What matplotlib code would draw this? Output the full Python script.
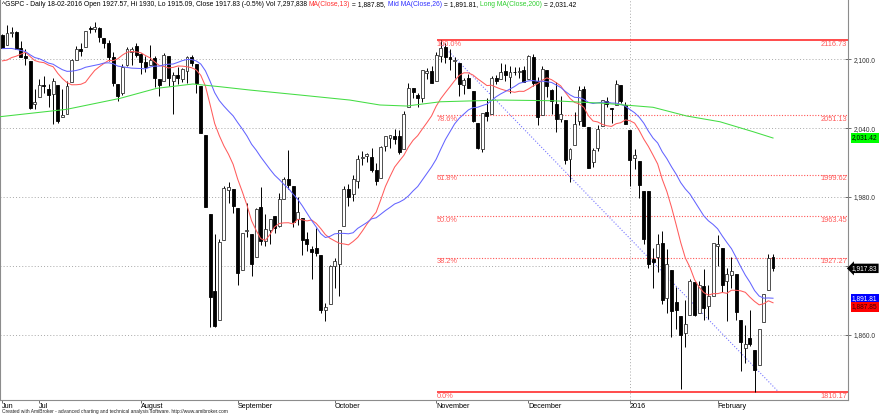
import matplotlib
matplotlib.use("Agg")
import matplotlib.pyplot as plt
import numpy as np
import pandas as pd

plt.rcParams['font.family'] = ['Liberation Sans', 'DejaVu Sans']

# trading days shown: 19 Jun 2015 .. 18 Feb 2016 (NYSE holidays skipped)
holidays = ['2015-07-03', '2015-09-07', '2015-11-26', '2015-12-25',
            '2016-01-01', '2016-01-18', '2016-02-15']
dates = pd.bdate_range('2015-06-19', '2016-02-18', freq='C', holidays=holidays)

# closes before the first visible bar, only used to start the moving averages
prior_closes = [2121.10, 2122.73, 2129.20, 2127.83, 2125.85, 2130.82, 2126.06,
                2104.20, 2123.48, 2120.79, 2107.39, 2111.73, 2109.60, 2114.07,
                2095.84, 2092.83, 2079.28, 2080.15, 2105.20, 2108.86, 2094.11,
                2084.43, 2096.29, 2100.44, 2121.24]

opens = [
    # Jun
    2121.06, 2112.50, 2123.16, 2123.65, 2109.96, 2102.62, 2098.63, 2061.19,
    # Jul
    2067.00, 2078.03, 2073.95, 2069.52, 2077.66, 2049.73, 2052.74, 2080.03, 2099.72, 2109.21, 2110.55,
    2126.80, 2126.85, 2127.55, 2118.21, 2114.16, 2102.24, 2078.19, 2070.75, 2094.70, 2106.78, 2111.60,
    # Aug
    2104.49, 2097.68, 2095.27, 2100.75, 2082.61, 2080.98, 2102.66, 2081.10, 2086.19, 2083.15, 2089.70,
    2101.99, 2095.69, 2076.61, 2034.08, 1965.15, 1898.08, 1872.75, 1942.77, 1986.06, 1986.73,
    # Sep
    1970.09, 1916.52, 1950.79, 1947.76, 1927.30, 1971.45, 1941.59, 1951.45, 1963.06, 1955.10, 1978.02,
    1995.33, 1989.66, 1960.84, 1961.39, 1943.24, 1934.81, 1935.93, 1929.18, 1881.90, 1887.14,
    # Oct
    1919.65, 1921.77, 1954.33, 1986.63, 1982.34, 1994.01, 2013.73, 2015.65, 2015.00, 2003.66, 1996.47,
    2024.37, 2031.73, 2033.13, 2033.47, 2021.88, 2058.19, 2075.08, 2068.75, 2066.48, 2088.35, 2090.00,
    # Nov
    2080.76, 2102.63, 2110.60, 2101.68, 2098.60, 2096.56, 2077.19, 2083.41, 2072.29, 2044.64,
    2022.08, 2053.67, 2051.99, 2083.70, 2082.82, 2089.41, 2084.42, 2089.30, 2088.82, 2090.95,
    # Dec
    2082.93, 2101.71, 2080.71, 2051.24, 2090.42, 2073.39, 2061.17, 2047.93, 2047.27, 2013.37, 2025.55,
    2046.50, 2073.76, 2040.81, 2010.27, 2023.15, 2042.20, 2063.52, 2057.77, 2060.54, 2077.34, 2060.59,
    # Jan
    2038.20, 2013.78, 2011.71, 1985.32, 1985.00, 1926.12, 1927.83, 1940.34, 1891.68, 1916.68,
    1888.66, 1876.18, 1861.46, 1877.40, 1906.28, 1878.79, 1902.52, 1885.22, 1894.00,
    # Feb
    1936.94, 1935.26, 1907.07, 1911.67, 1913.07, 1873.25, 1848.46, 1857.10, 1847.00, 1833.40,
    1871.44, 1898.80, 1927.57,
]
highs = [
    2121.64, 2129.87, 2128.03, 2125.10, 2116.04, 2108.92, 2098.63, 2074.28,
    2082.78, 2085.06, 2078.61, 2083.74, 2077.66, 2074.28, 2081.31, 2100.67, 2111.98, 2114.14, 2124.42,
    2128.91, 2132.82, 2128.49, 2118.51, 2116.87, 2106.01, 2078.19, 2095.60, 2110.60, 2110.48, 2114.24,
    2105.70, 2102.51, 2112.66, 2103.32, 2082.61, 2105.35, 2102.66, 2089.06, 2092.93, 2092.45, 2102.87,
    2103.47, 2096.17, 2076.61, 2034.08, 1965.15, 1948.04, 1943.09, 1989.60, 1993.48, 1986.73,
    1970.09, 1948.91, 1975.01, 1947.76, 1970.42, 1988.63, 1965.29, 1961.05, 1963.06, 1983.19, 1997.26,
    2020.86, 1989.66, 1979.64, 1961.39, 1949.52, 1937.17, 1952.89, 1929.18, 1887.64, 1920.53,
    1927.21, 1951.36, 1989.17, 1991.62, 1999.31, 2016.50, 2020.13, 2018.66, 2022.34, 2009.56, 2024.15,
    2033.54, 2034.45, 2039.12, 2037.97, 2055.20, 2079.74, 2075.14, 2070.37, 2090.35, 2092.52, 2094.32,
    2106.20, 2116.48, 2114.59, 2108.78, 2101.91, 2096.56, 2083.67, 2086.94, 2072.29, 2044.64,
    2053.22, 2066.69, 2085.31, 2086.74, 2097.06, 2095.61, 2094.12, 2093.00, 2093.29, 2093.81,
    2103.37, 2104.27, 2085.00, 2093.84, 2090.42, 2073.85, 2080.33, 2067.65, 2047.27, 2022.92, 2053.87,
    2076.72, 2076.37, 2040.81, 2022.90, 2042.74, 2064.73, 2067.36, 2057.77, 2081.56, 2077.34, 2062.54,
    2038.20, 2021.94, 2011.71, 1985.32, 1985.30, 1935.65, 1947.38, 1950.33, 1934.47, 1916.68,
    1901.44, 1876.18, 1889.85, 1908.85, 1906.28, 1906.73, 1916.99, 1902.96, 1940.24,
    1947.20, 1935.26, 1918.01, 1927.35, 1913.07, 1873.25, 1868.25, 1881.60, 1847.00, 1864.78,
    1895.77, 1930.68, 1930.00,
]
lows = [
    2109.45, 2112.50, 2119.89, 2108.58, 2101.78, 2095.38, 2056.64, 2056.32,
    2067.00, 2071.02, 2058.40, 2044.02, 2044.66, 2049.73, 2052.74, 2080.03, 2099.72, 2102.49, 2110.55,
    2122.76, 2123.66, 2115.40, 2110.00, 2098.63, 2077.09, 2063.52, 2069.09, 2094.08, 2094.97, 2102.07,
    2087.31, 2088.60, 2095.27, 2075.53, 2067.91, 2080.98, 2076.49, 2052.09, 2078.26, 2080.61, 2079.30,
    2094.14, 2070.53, 2035.73, 1970.89, 1867.01, 1867.08, 1872.75, 1942.77, 1975.19, 1965.98,
    1903.07, 1916.52, 1944.72, 1911.21, 1927.30, 1937.88, 1937.19, 1939.19, 1948.27, 1954.30, 1977.93,
    1986.73, 1953.45, 1955.80, 1929.22, 1932.57, 1908.92, 1928.83, 1879.21, 1871.91, 1887.14,
    1900.70, 1893.70, 1954.33, 1971.99, 1976.44, 1987.53, 2007.61, 2010.55, 2001.78, 1990.73, 1996.47,
    2020.46, 2022.31, 2026.61, 2017.22, 2021.88, 2058.19, 2066.53, 2058.84, 2063.11, 2082.63, 2079.34,
    2080.76, 2097.51, 2096.98, 2090.41, 2083.74, 2068.24, 2069.91, 2074.85, 2045.66, 2022.02,
    2019.39, 2045.90, 2051.99, 2078.76, 2082.82, 2081.39, 2070.29, 2086.30, 2084.13, 2080.41,
    2082.93, 2077.11, 2042.35, 2051.24, 2066.78, 2052.32, 2036.53, 2045.67, 2008.80, 1993.26, 2025.55,
    2042.43, 2041.66, 2005.33, 2005.93, 2020.49, 2042.20, 2058.73, 2044.20, 2060.54, 2061.97, 2043.62,
    1989.68, 2004.17, 1979.05, 1938.83, 1918.46, 1901.10, 1914.35, 1886.41, 1878.93, 1857.83,
    1864.60, 1812.29, 1848.98, 1877.40, 1875.97, 1878.79, 1872.70, 1873.65, 1894.00,
    1920.03, 1897.29, 1872.23, 1900.52, 1872.65, 1828.46, 1834.94, 1850.32, 1810.10, 1833.40,
    1871.44, 1898.80, 1915.09,
]
closes = [
    2109.99, 2122.85, 2124.20, 2108.58, 2102.31, 2101.49, 2057.64, 2063.11,
    2077.42, 2076.78, 2068.76, 2081.34, 2046.68, 2051.31, 2076.62, 2099.60, 2108.95, 2107.40, 2124.29,
    2126.64, 2128.28, 2119.21, 2114.15, 2102.15, 2079.65, 2067.64, 2093.25, 2108.57, 2108.63, 2103.84,
    2098.04, 2093.32, 2099.84, 2083.56, 2077.57, 2104.18, 2084.07, 2086.05, 2083.39, 2091.54, 2102.44,
    2096.92, 2079.61, 2035.73, 1970.89, 1893.21, 1867.61, 1940.51, 1987.66, 1988.87, 1972.18,
    1913.85, 1948.86, 1951.13, 1921.22, 1969.41, 1942.04, 1952.29, 1961.05, 1953.03, 1978.09, 1995.31,
    1990.20, 1958.03, 1966.97, 1942.74, 1938.76, 1932.24, 1931.34, 1881.77, 1884.09, 1920.03,
    1923.82, 1951.36, 1987.05, 1979.92, 1995.83, 2013.43, 2014.89, 2017.46, 2003.69, 1994.24, 2023.86,
    2033.11, 2033.66, 2030.77, 2018.94, 2052.51, 2075.15, 2071.18, 2065.89, 2090.35, 2089.41, 2079.36,
    2104.05, 2109.79, 2102.31, 2099.93, 2099.20, 2078.58, 2081.72, 2075.00, 2045.97, 2023.04,
    2053.19, 2050.44, 2083.58, 2081.24, 2089.17, 2086.59, 2089.14, 2088.87, 2090.11, 2080.41,
    2102.63, 2079.51, 2049.62, 2091.69, 2077.07, 2063.59, 2047.62, 2052.23, 2012.37, 2021.94, 2043.41,
    2073.07, 2041.89, 2005.55, 2021.15, 2038.97, 2064.29, 2060.99, 2056.50, 2078.36, 2063.36, 2043.94,
    2012.66, 2016.71, 1990.26, 1943.09, 1922.03, 1923.67, 1938.68, 1890.28, 1921.84, 1880.33,
    1881.33, 1859.33, 1868.99, 1906.90, 1877.08, 1903.63, 1882.95, 1893.36, 1940.24,
    1939.38, 1903.03, 1912.53, 1915.45, 1880.05, 1853.44, 1852.21, 1851.86, 1829.08, 1864.78,
    1895.58, 1926.82, 1917.83,
]

# 200-day MA (bar number, value)
ma200_bar = [-0.5, 13.9, 25.5, 33.4, 41.3, 47.2, 53.7, 64.5, 75.3, 81.8, 87.6,
             94.9, 108.0, 119.3, 130.2, 141.0, 148.3, 155.5, 162.7, 167.0]
ma200_val = [2050.0, 2056.4, 2066.0, 2074.7, 2078.5, 2076.1, 2073.2, 2068.9, 2064.5, 2060.2, 2059.3,
             2063.0, 2064.5, 2063.9, 2061.7, 2058.2, 2050.6, 2045.6, 2036.9, 2031.42]

# fibonacci retracement levels as printed on the chart
fib_labels = ['100.0%', '78.6%', '61.8%', '50.0%', '38.2%', '0.0%']
fib_values = [2116.73, 2051.13, 1999.62, 1963.45, 1927.27, 1810.17]
fib_start = 94.1

trend_bar = [95, 168]
trend_val = [2114, 1811]

price_ticks = [2100, 2040, 1980, 1920, 1860]
month_names = ['Jun', 'Jul', 'August', 'September', 'October', 'November',
               'December', '2016', 'February']

o = np.array(opens); h = np.array(highs); l = np.array(lows); c = np.array(closes)
n = len(c)
x = np.arange(n)
allc = pd.Series(prior_closes + closes)
ma13 = allc.rolling(13).mean().values[-n:]
ma26 = allc.rolling(26).mean().values[-n:]

month_pos = [0] + [i for i in range(1, n) if dates[i].month != dates[i - 1].month]

fig = plt.figure(figsize=(8.8, 4.15), dpi=100)
ax = fig.add_axes([0, 15 / 415, 848 / 880, 400 / 415])
xmin, xmax = -0.52, 183.25
ax.set_xlim(xmin, xmax)
ax.set_ylim(1803.1, 2151.7)

grid_kw = dict(color='#a8a8a8', lw=0.7, ls=(0, (1, 2.2)), zorder=0)
for p in price_ticks:
    ax.axhline(p, **grid_kw)
ax.axvline(month_pos[7], **grid_kw)

for lab, lvl in zip(fib_labels, fib_values):
    if lab in ('0.0%', '100.0%'):
        ax.hlines(lvl, fib_start, xmax, color='#ff1a1a', lw=1.1, zorder=1)
    else:
        ax.hlines(lvl, fib_start, xmax, color='#ff5555', lw=0.8, ls=(0, (1, 1.5)), zorder=1)
    ax.annotate(lab, (fib_start, lvl), xytext=(0, -0.5), textcoords='offset points',
                ha='left', va='top', fontsize=5.3, color='#ff5a5a')
    ax.annotate(f'{lvl:.2f}', (183.0, lvl), xytext=(0, -0.5), textcoords='offset points',
                ha='right', va='top', fontsize=5.3, color='#ff5a5a')

ax.plot(trend_bar, trend_val, color='#7777ff', lw=0.8, ls=(0, (1, 1.6)), zorder=1)

# candles
up = c >= o
ax.vlines(x, l, h, color='black', lw=0.7, zorder=2)
bottom = np.minimum(o, c)
height = np.maximum(np.abs(c - o), 0.5)
ax.bar(x[up], height[up], bottom=bottom[up], width=0.64, color='white',
       edgecolor='#333333', lw=0.6, zorder=3)
ax.bar(x[~up], height[~up], bottom=bottom[~up], width=0.64, color='black',
       edgecolor='black', lw=0.6, zorder=3)

ax.plot(x, ma13, color='#ff5c5c', lw=0.75, zorder=4)
ax.plot(x, ma26, color='#6464ff', lw=0.75, zorder=4)
ax.plot(ma200_bar, ma200_val, color='#44dd44', lw=0.75, zorder=4)

for side in ['left', 'right', 'bottom']:
    ax.spines[side].set_color('#8c8c8c')
    ax.spines[side].set_linewidth(0.8)
ax.spines['top'].set_visible(False)

ax.yaxis.tick_right()
ax.set_yticks(price_ticks)
ax.set_yticklabels([f'{p:,.1f}' for p in price_ticks])
ax.tick_params(axis='y', direction='inout', length=4, width=0.6, color='#555555',
               labelsize=4.8, labelcolor='#333333', pad=2)
ax.set_xticks(month_pos)
ax.set_xticklabels(month_names)
for t in ax.get_xticklabels():
    t.set_ha('left')
ax.tick_params(axis='x', direction='out', length=2.5, width=0.6, color='#555555',
               labelsize=5.2, labelcolor='black', pad=-0.7)

# value labels on the right
box_x = 184.1
box_kw = dict(fontsize=4.8, va='center', ha='left', zorder=10)
ax.text(box_x, ma200_val[-1], f'{ma200_val[-1]:,.2f}', color='black', clip_on=False,
        bbox=dict(boxstyle='square,pad=0.18', fc='#00ff00', ec='none'), **box_kw)
ax.text(box_x, ma26[-1], f'{ma26[-1]:,.2f}', color='white', clip_on=False,
        bbox=dict(boxstyle='square,pad=0.18', fc='#0000ff', ec='none'), **box_kw)
ax.annotate(f'{ma13[-1]:,.2f}', (box_x, ma13[-1]), xytext=(0, -3), textcoords='offset points',
            color='#400000', annotation_clip=False,
            bbox=dict(boxstyle='square,pad=0.18', fc='#ff0000', ec='none'), **box_kw)
ax.text(box_x, c[-1], f'{c[-1]:,.2f}', color='white', clip_on=False,
        bbox=dict(boxstyle='larrow,pad=0.18', fc='black', ec='none'), **box_kw)

# title line
chg = (c[-1] / c[-2] - 1) * 100
parts = [
    (f'^GSPC - Daily {dates[-1]:%d-%m-%Y} Open {o[-1]:g}, Hi {h[-1]:g}, Lo {l[-1]:g}, '
     f'Close {c[-1]:g} ({chg:.1f}%) Vol 7,297,838 ', 'black'),
    ('MA(Close,13)', '#ff3030'), (f' = {ma13[-1]:,.2f}, ', 'black'),
    ('Mid MA(Close,26)', '#3030ff'), (f' = {ma26[-1]:,.2f}, ', 'black'),
    ('Long MA(Close,200)', '#30d030'), (f' = {ma200_val[-1]:,.2f}', 'black'),
]
renderer = fig.canvas.get_renderer()
tx = 2
for s, col in parts:
    t = fig.text(tx / 880, 1 - 4.5 / 415, s, color=col, fontsize=4.9, va='center', ha='left')
    tx += t.get_window_extent(renderer).width

fig.text(2 / 880, 1 - 411.5 / 415, 'Created with AmiBroker - advanced charting and technical analysis '
         'software. http://www.amibroker.com', fontsize=3.5, color='#222222', va='center')

fig.savefig('out.png', dpi=100)
